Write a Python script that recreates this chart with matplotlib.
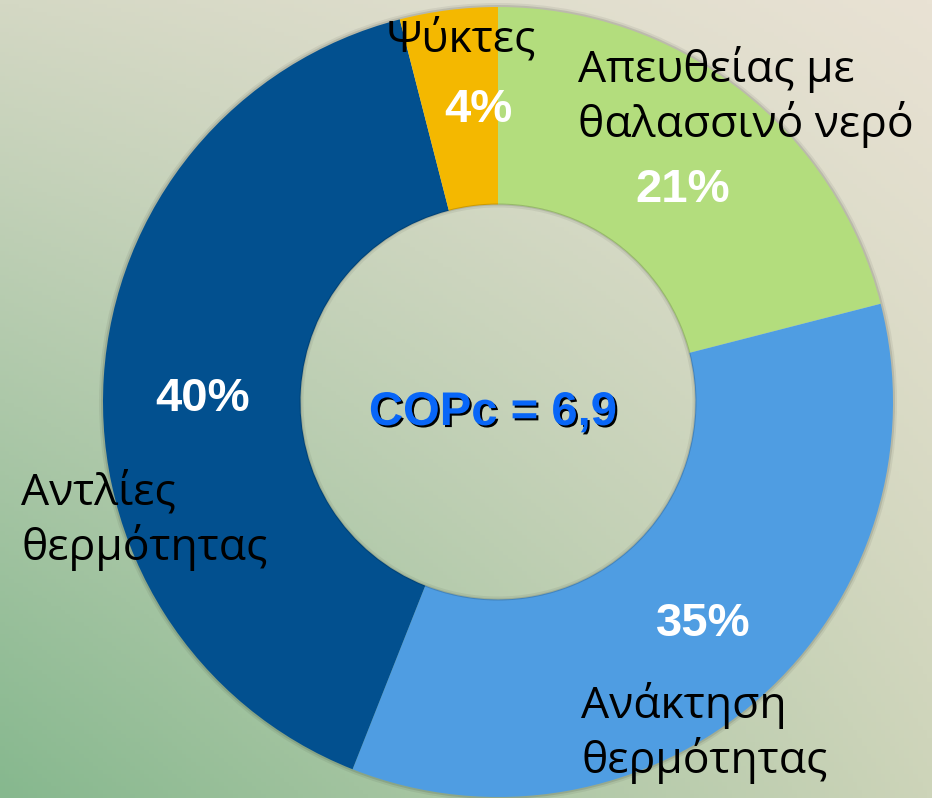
import numpy as np
import matplotlib.pyplot as plt
import matplotlib.patheffects as pe
from matplotlib.patches import Wedge

# data
categories = ['Απευθείας με\nθαλασσινό νερό', 'Ανάκτηση\nθερμότητας',
              'Αντλίες\nθερμότητας', 'Ψύκτες']
values = [21, 35, 40, 4]
colors = ['#B3DD7D', '#4F9DE2', '#02508F', '#F4B800']
center_text = 'COPc = 6,9'

# layout (pixels, y from top)
W, H = 932, 798
cx, cy, R = 498, 402, 395
pct_pos = [(683, 190), (703, 624), (203, 399), (478, 110)]
lab_pos = [(578, 82, 'left'), (581, 718, 'left'), (21, 505, 'left'), (461, 52, 'center')]
line_gap = 55

fig = plt.figure(figsize=(W / 100, H / 100), dpi=100)
ax = fig.add_axes([0, 0, 1, 1])

# background gradient (4 corners)
tl = np.array([212, 216, 196]) / 255
tr = np.array([233, 226, 212]) / 255
bl = np.array([134, 184, 142]) / 255
br = np.array([205, 212, 185]) / 255
u = np.linspace(0, 1, 200)[None, :, None]
v = np.linspace(0, 1, 200)[:, None, None]
bg = (1 - v) * ((1 - u) * tl + u * tr) + v * ((1 - u) * bl + u * br)
ax.imshow(bg, extent=(0, W, 0, H), aspect='auto', zorder=0)

# soft shadow rings
for dr, a in [(4, 0.06), (2, 0.1)]:
    ax.add_patch(Wedge((cx, H - cy), R + dr, 0, 360, width=dr + 1,
                       facecolor='black', alpha=a, lw=0, zorder=1))
    ax.add_patch(Wedge((cx, H - cy), R / 2 + 1, 0, 360, width=dr,
                       facecolor='black', alpha=a, lw=0, zorder=3))

ax.pie(values, colors=colors, startangle=90, counterclock=False,
       center=(cx, H - cy), radius=R,
       wedgeprops=dict(width=R / 2, linewidth=0, zorder=2))

for val, (x, y) in zip(values, pct_pos):
    ax.text(x, H - y, f'{val}%', ha='center', va='center', color='white',
            fontsize=34, fontweight='bold', family='Liberation Sans', zorder=5)

for lab, (x, y, ha) in zip(categories, lab_pos):
    for i, line in enumerate(lab.split('\n')):
        ax.text(x, H - y - i * line_gap, line, ha=ha, va='baseline',
                color='black', fontsize=32, family='Open Sans', zorder=5)

ax.text(493, H - 413, center_text, ha='center', va='center', color='#0866F8',
        fontsize=34, fontweight='bold', family='Liberation Sans', zorder=5,
        path_effects=[pe.withSimplePatchShadow(offset=(1.5, -1.5),
                                               shadow_rgbFace='black', alpha=1)])

ax.set_xlim(0, W)
ax.set_ylim(0, H)
ax.set_aspect('auto')
ax.axis('off')

fig.savefig('out.png', dpi=100)
